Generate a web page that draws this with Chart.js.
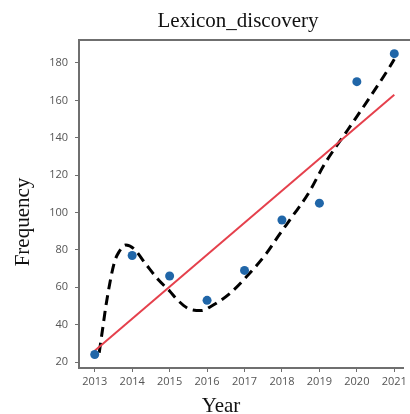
<!DOCTYPE html>
<html>
<head>
<meta charset="utf-8">
<script src="https://cdn.jsdelivr.net/npm/chart.js@4"></script>
<style>
  html, body { margin: 0; padding: 0; background: #fff; }
  #wrap { width: 410px; height: 414px; }
</style>
</head>
<body>
<div id="wrap"><canvas id="lexicon-chart"></canvas></div>
<script>
// Observed values
const years = [2013, 2014, 2015, 2016, 2017, 2018, 2019, 2020, 2021];
const frequency = [24, 77, 66, 53, 69, 96, 105, 170, 185];

// Linear fit (red line), read at its two ends
const linearX = [2013, 2021];
const linearY = [26, 163];

// Polynomial fit (black dashed)
const curveX = [2013.12, 2013.22, 2013.31, 2013.52, 2013.65, 2013.83, 2014.05, 2014.35, 2014.7, 2015.0,
  2015.22, 2015.57, 2015.85, 2016.09, 2016.61, 2017.05, 2017.58, 2017.92, 2018.27, 2018.7,
  2019.14, 2019.75, 2020.36, 2020.88, 2021.0];
const curveY = [25, 39, 51.5, 73, 79, 82.6, 80.5, 72.8, 64, 58,
  53, 48, 47.5, 49.6, 56.7, 65.6, 78, 87.9, 97.7, 110,
  126, 144, 162, 178, 182];

// Axis ticks
const xTicks = [2013, 2014, 2015, 2016, 2017, 2018, 2019, 2020, 2021];
const yTicks = [20, 40, 60, 80, 100, 120, 140, 160, 180];

const toPoints = (xs, ys) => xs.map((x, i) => ({ x: x, y: ys[i] }));

const axisGrey = '#6f6f6f';
const tickFont = { family: '"Open Sans", "Noto Sans", sans-serif', size: 11 };

// Titles and the top frame line
const framePlugin = {
  id: 'frame',
  afterDraw(chart) {
    const { ctx, chartArea } = chart;
    ctx.save();
    ctx.strokeStyle = axisGrey;
    ctx.lineWidth = 2;
    ctx.beginPath();
    ctx.moveTo(chartArea.left - 1, chartArea.top);
    ctx.lineTo(chart.width, chartArea.top);
    ctx.stroke();

    ctx.fillStyle = '#111';
    ctx.font = '21px "Liberation Serif", "DejaVu Serif", serif';
    ctx.textAlign = 'center';
    ctx.textBaseline = 'alphabetic';
    ctx.fillText('Lexicon_discovery', 238, 27);
    ctx.fillText('Year', 221, 412);

    ctx.translate(29, 222);
    ctx.rotate(-Math.PI / 2);
    ctx.fillText('Frequency', 0, 0);
    ctx.restore();
  }
};

const lexiconChart = new Chart(document.getElementById('lexicon-chart'), {
  type: 'scatter',
  data: {
    datasets: [{
      label: 'Frequency',
      data: toPoints(years, frequency),
      backgroundColor: '#2066a8',
      borderWidth: 0,
      pointRadius: 4.5,
      showLine: false
    }, {
      label: 'Linear fit',
      data: toPoints(linearX, linearY),
      borderColor: '#e5404c',
      borderWidth: 2,
      pointRadius: 0,
      showLine: true
    }, {
      label: 'Polynomial fit',
      data: toPoints(curveX, curveY),
      borderColor: '#000',
      borderWidth: 3,
      borderDash: [10, 6],
      pointRadius: 0,
      showLine: true,
      cubicInterpolationMode: 'monotone'
    }]
  },
  options: {
    responsive: true,
    maintainAspectRatio: false,
    animation: false,
    layout: { padding: { left: 0, right: 0, top: 40, bottom: 0 } },
    plugins: {
      legend: { display: false },
      tooltip: { enabled: false }
    },
    scales: {
      x: {
        type: 'linear',
        min: 2012.58,
        max: 2021.235,
        afterBuildTicks: (scale) => { scale.ticks = xTicks.map(v => ({ value: v })); },
        afterFit: (scale) => { scale.height = 46; },
        border: { color: axisGrey, width: 2 },
        grid: { drawOnChartArea: false, color: axisGrey, tickLength: 4 },
        ticks: { color: '#555', font: tickFont, padding: 3, maxRotation: 0, callback: v => String(v) }
      },
      y: {
        min: 16.8,
        max: 192.3,
        afterBuildTicks: (scale) => { scale.ticks = yTicks.map(v => ({ value: v })); },
        afterFit: (scale) => { scale.width = 79; },
        border: { color: axisGrey, width: 2 },
        grid: { drawOnChartArea: false, color: axisGrey, tickLength: 4 },
        ticks: { color: '#555', font: tickFont, padding: 7 }
      }
    }
  },
  plugins: [framePlugin]
});
</script>
</body>
</html>
